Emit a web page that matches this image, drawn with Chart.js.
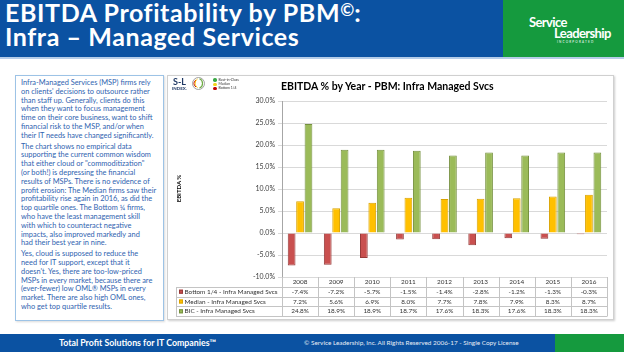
<!DOCTYPE html>
<html>
<head>
<meta charset="utf-8">
<script src="https://cdn.jsdelivr.net/npm/chart.js@4.4.0/dist/chart.umd.min.js"></script>
<style>
  html, body { margin: 0; padding: 0; background: #fff; }
  body { width: 624px; height: 352px; position: relative; overflow: hidden; font-family: Lato, 'Open Sans', sans-serif; }
  .abs { position: absolute; }
  #header { left: 0; top: 0; width: 503px; height: 57px; background: #0b52a2; }
  #headerGreen { left: 503px; top: 0; width: 121px; height: 57px; background: #159a3e; }
  #headerLine { left: 0; top: 57px; width: 624px; height: 2px; background: #b5cde9; }
  #title { left: 5px; top: 0px; color: #fff; font-weight: bold; font-size: 25px; line-height: 24px; letter-spacing: 0.6px; white-space: nowrap; }
  #title .sup { font-size: 17px; vertical-align: 6px; line-height: 0; letter-spacing: 0; }
  #logo1 { left: 529px; top: 14px; color: #fff; font-weight: bold; font-size: 13px; letter-spacing: -0.6px; }
  #logo2 { left: 554px; top: 25px; color: #fff; font-weight: bold; font-size: 13px; letter-spacing: -0.6px; }
  #logo3 { left: 557px; top: 40px; color: #fff; font-size: 3px; letter-spacing: 1.2px; }
  #textBox { left: 15px; top: 75px; width: 147px; height: 244px; border: 1px solid #9dc3e6; box-shadow: 1px 1px 2px rgba(0,0,0,0.15); }
  #text { left: 21px; top: 79px; color: #2f63b0; font-size: 7.4px; line-height: 8.8px; white-space: nowrap; }
  #text p { margin: 0 0 2px 0; }
  #chartBox { left: 167px; top: 75px; width: 445px; height: 243px; border: 1px solid #d0d0d0; box-shadow: 1px 1px 2px rgba(0,0,0,0.2); }
  #chartCanvas { left: 168px; top: 75px; }
  #chartTitle { left: 281px; top: 80px; font-weight: bold; font-size: 10.5px; color: #000; white-space: nowrap; }
  #yTitle { left: 158px; top: 185px; width: 40px; text-align: center; transform: rotate(-90deg); font-weight: bold; font-size: 6px; color: #000; }
  #slText { left: 173px; top: 76px; font-weight: bold; font-size: 9px; color: #1f3864; }
  #slIndex { left: 172px; top: 86px; font-weight: bold; font-size: 4.5px; color: #1f3864; }
  #slLegend { left: 213px; top: 78px; font-size: 3.5px; color: #333; line-height: 4.2px; }
  .dot { display: inline-block; width: 3.5px; height: 3.5px; border-radius: 50%; margin-right: 2px; vertical-align: middle; }
  #footer { left: 0; top: 334px; width: 555px; height: 18px; background: #0b52a2; }
  #footerGreen { left: 555px; top: 334px; width: 69px; height: 18px; background: #159a3e; }
  #footer1 { left: 59px; top: 337px; color: #fff; font-weight: bold; font-size: 8.8px; white-space: nowrap; }
  #footer2 { left: 304px; top: 339px; color: #e6ecf5; font-size: 6.4px; white-space: nowrap; }
</style>
</head>
<body>
<div id="header" class="abs"></div>
<div id="headerGreen" class="abs"></div>
<div id="headerLine" class="abs"></div>
<div id="title" class="abs">EBITDA Profitability by PBM<span class="sup">&copy;</span>:<br>Infra &ndash; Managed Services</div>
<div id="logo1" class="abs">Service</div>
<div id="logo2" class="abs">Leadership</div>
<div id="logo3" class="abs">INCORPORATED</div>

<div id="textBox" class="abs"></div>
<div id="text" class="abs">
<p>Infra-Managed Services (MSP) firms rely<br>on clients' decisions to outsource rather<br>than staff up. Generally, clients do this<br>when they want to focus management<br>time on their core business, want to shift<br>financial risk to the MSP, and/or when<br>their IT needs have changed significantly.</p>
<p>The chart shows no empirical data<br>supporting the current common wisdom<br>that either cloud or "commoditization"<br>(or both!) is depressing the financial<br>results of MSPs. There is no evidence of<br>profit erosion: The Median firms saw their<br>profitability rise again in 2016, as did the<br>top quartile ones. The Bottom &frac14; firms,<br>who have the least management skill<br>with which to counteract negative<br>impacts, also improved markedly and<br>had their best year in nine.</p>
<p>Yes, cloud is supposed to reduce the<br>need for IT support, except that it<br>doesn't. Yes, there are too-low-priced<br>MSPs in every market, because there are<br>(ever-fewer) low OML&reg; MSPs in every<br>market. There are also high OML ones,<br>who get top quartile results.</p>
</div>

<div id="chartBox" class="abs"></div>
<canvas id="chartCanvas" class="abs" width="445" height="244"></canvas>
<div id="chartTitle" class="abs">EBITDA % by Year - PBM: Infra Managed Svcs</div>
<div id="yTitle" class="abs">EBITDA %</div>
<div id="slText" class="abs">S-L</div>
<div id="slIndex" class="abs">INDEX.</div>
<svg class="abs" style="left:192px;top:77px" width="13" height="13" viewBox="0 0 13 13">
  <circle cx="6.5" cy="6.5" r="6" fill="#fff" stroke="#8a8a8a" stroke-width="0.8"/>
  <path d="M4 10 A4 4 0 0 1 4 3" fill="none" stroke="#c00000" stroke-width="1"/>
  <path d="M5.5 10.5 A5 5 0 0 1 5.5 2" fill="none" stroke="#ffc000" stroke-width="1"/>
  <path d="M7.5 11 A5 5 0 0 0 7.5 1.8" fill="none" stroke="#70ad47" stroke-width="1.2"/>
</svg>
<div id="slLegend" class="abs">
  <div><span class="dot" style="background:#3aa845"></span>Best-in-Class</div>
  <div><span class="dot" style="background:#f2d21b"></span>Median</div>
  <div><span class="dot" style="background:#c00000"></span>Bottom 1/4</div>
</div>

<div id="footer" class="abs"></div>
<div id="footerGreen" class="abs"></div>
<div id="footer1" class="abs">Total Profit Solutions for IT Companies&trade;</div>
<div id="footer2" class="abs">&copy; Service Leadership, Inc. All Rights Reserved 2006-17 - Single Copy License</div>

<script>
// EBITDA % by year
var years = ['2008', '2009', '2010', '2011', '2012', '2013', '2014', '2015', '2016'];
var bottomQuartile = [-7.4, -7.2, -5.7, -1.5, -1.4, -2.8, -1.2, -1.3, -0.3];
var median = [7.2, 5.6, 6.9, 8.0, 7.7, 7.8, 7.9, 8.3, 8.7];
var bestInClass = [24.8, 18.9, 18.9, 18.7, 17.6, 18.3, 17.6, 18.3, 18.3];
var seriesLabels = ['Bottom 1/4 - Infra Managed Svcs', 'Median - Infra Managed Svcs', 'BIC - Infra Managed Svcs'];
var yMin = -10, yMax = 30, yStep = 5;

var fills = ['#c9504f', '#ffc000', '#9bbb59'];
var borders = ['#963b3a', '#d9a300', '#76913f'];

function pct(v) { return v.toFixed(1) + '%'; }

// draws the Excel style data table under the plot, aligned to the x scale
var dataTablePlugin = {
    id: 'dataTable',
    afterDraw: function (chart) {
        var ctx = chart.ctx;
        var area = chart.chartArea;
        var xs = chart.scales.x;
        var step = (area.right - area.left) / years.length;
        var rowH = 9.8;
        var top = area.bottom;
        var labelLeft = 8;
        var rows = [bottomQuartile, median, bestInClass];

        ctx.save();
        ctx.strokeStyle = '#c4c4c4';
        ctx.lineWidth = 1;
        ctx.beginPath();
        for (var k = 1; k <= 4; k++) {
            var yy = Math.round(top + rowH * k) + 0.5;
            ctx.moveTo(labelLeft, yy);
            ctx.lineTo(area.right, yy);
        }
        var bottomY = Math.round(top + rowH * 4) + 0.5;
        ctx.moveTo(labelLeft + 0.5, Math.round(top + rowH) + 0.5);
        ctx.lineTo(labelLeft + 0.5, bottomY);
        for (var i = 0; i <= years.length; i++) {
            var xx = Math.round(area.left + step * i) + 0.5;
            ctx.moveTo(xx, top);
            ctx.lineTo(xx, bottomY);
        }
        ctx.stroke();

        ctx.font = '6.4px Lato';
        ctx.fillStyle = '#333';
        ctx.textBaseline = 'middle';
        ctx.textAlign = 'center';
        for (var c = 0; c < years.length; c++) {
            var cx = xs.getPixelForValue(c);
            ctx.fillText(years[c], cx, top + rowH * 0.5);
            for (var r = 0; r < rows.length; r++) {
                ctx.fillText(pct(rows[r][c]), cx, top + rowH * (r + 1.5));
            }
        }
        ctx.textAlign = 'left';
        for (var s = 0; s < seriesLabels.length; s++) {
            var cy = top + rowH * (s + 1.5);
            ctx.fillStyle = fills[s];
            ctx.fillRect(11, cy - 2, 4, 4);
            ctx.strokeStyle = borders[s];
            ctx.strokeRect(11.5, cy - 1.5, 3, 3);
            ctx.fillStyle = '#333';
            ctx.fillText(seriesLabels[s], 16.5, cy);
        }
        ctx.restore();
    }
};

var ctx = document.getElementById('chartCanvas').getContext('2d');
var chart = new Chart(ctx, {
    type: 'bar',
    data: {
        labels: years,
        datasets: [
            { label: seriesLabels[0], data: bottomQuartile, backgroundColor: fills[0], borderColor: borders[0], borderWidth: 1 },
            { label: seriesLabels[1], data: median, backgroundColor: fills[1], borderColor: borders[1], borderWidth: 1 },
            { label: seriesLabels[2], data: bestInClass, backgroundColor: fills[2], borderColor: borders[2], borderWidth: 1 }
        ]
    },
    options: {
        responsive: false,
        animation: false,
        layout: { padding: { left: 0, right: 6, top: 26, bottom: 42 } },
        datasets: { bar: { categoryPercentage: 0.7, barPercentage: 0.92 } },
        plugins: {
            legend: { display: false },
            tooltip: { enabled: false }
        },
        scales: {
            x: { display: false },
            y: {
                min: yMin,
                max: yMax,
                afterFit: function (scale) { scale.width = 114; },
                ticks: {
                    stepSize: yStep,
                    callback: function (v) { return pct(v); },
                    font: { family: 'Lato', size: 7 },
                    color: '#404040',
                    padding: 3
                },
                grid: { color: '#d9d9d9', tickLength: 4 },
                border: { color: '#a6a6a6' }
            }
        }
    },
    plugins: [dataTablePlugin]
});
</script>
</body>
</html>
